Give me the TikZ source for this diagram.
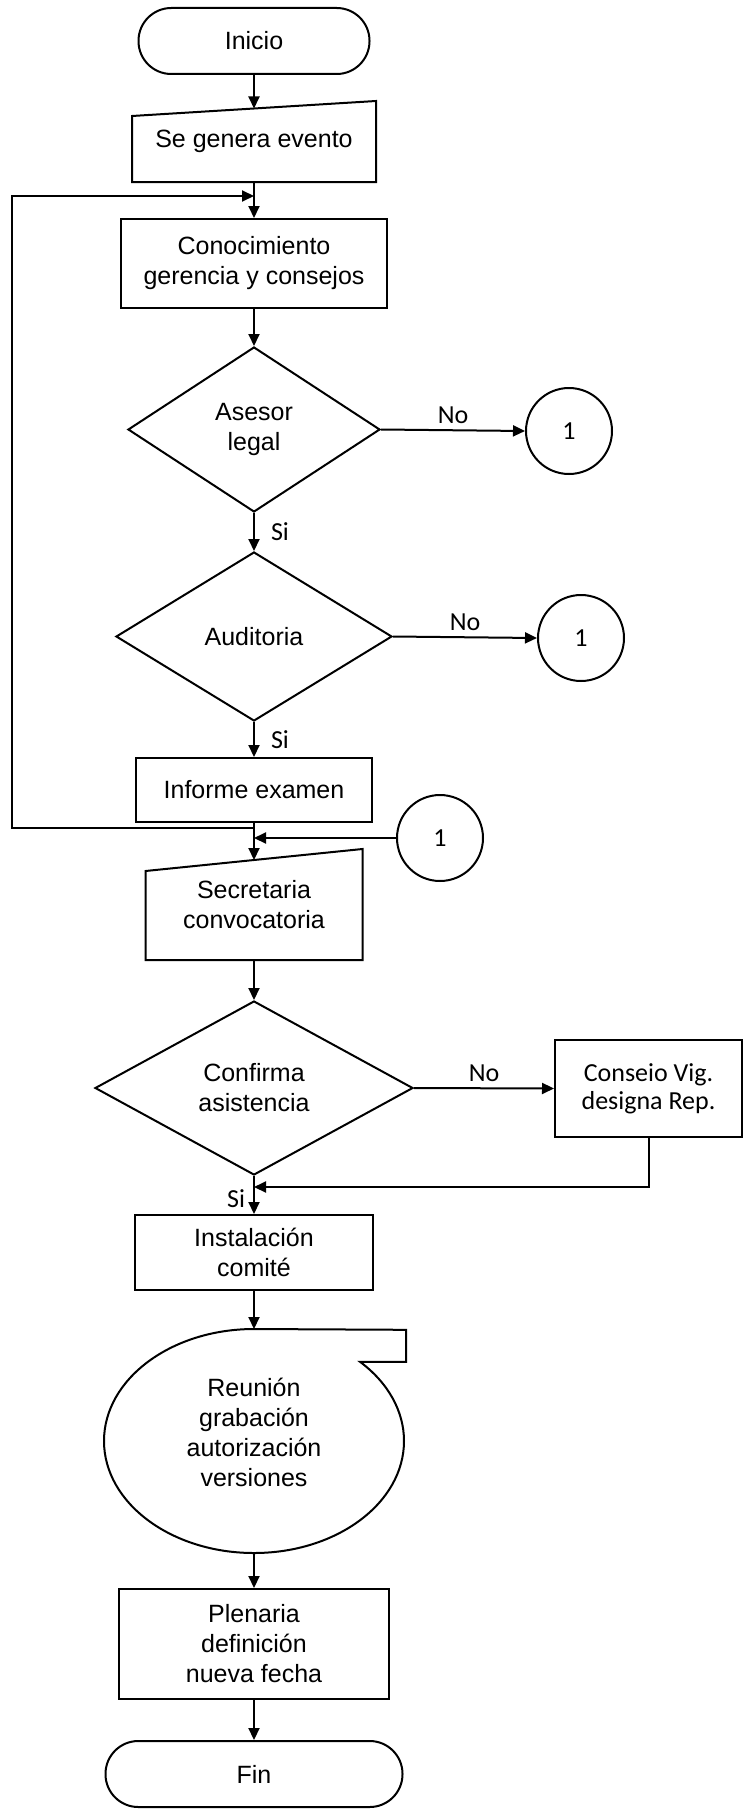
\documentclass[tikz,border=0pt]{standalone}
\usepackage{fontspec}
\setmainfont{Liberation Sans}
\newfontfamily\carlito{Carlito}
\usepackage{tikz}
\usetikzlibrary{shapes.geometric,arrows.meta}

\begin{document}
\begin{tikzpicture}[x=0.5pt,y=0.5pt,line width=1pt]
		\tikzstyle{every node}+=[inner sep=0pt,align=center,font=\fontsize{12.5}{15}\selectfont]
		\tikzstyle{terminal}=[draw,rectangle,rounded corners=16.4pt,minimum height=33pt]
		\tikzstyle{caja}=[draw,rectangle]
		\tikzstyle{manual}=[rectangle]
		\tikzstyle{decision}=[draw,diamond,aspect=1.6]
		\tikzstyle{conector}=[draw,circle,minimum size=43pt,font=\carlito\fontsize{13}{15}\selectfont]
		\tikzstyle{etiq}=[font=\carlito\fontsize{13}{15}\selectfont]
		\tikzstyle{flecha}=[-{Triangle[length=6pt,width=5.5pt]}]
		\useasboundingbox (0,0) rectangle (744,-1809);
		\node[terminal,minimum width=115.5pt] (ini) at (254,-41) {Inicio};
		\node[manual,minimum width=121pt,minimum height=39.5pt] (sge) at (254,-141.5) {Se genera evento};
		\draw (sge.south west) -- (sge.south east) -- (sge.north east) -- ([yshift=-7.5pt]sge.north west) -- cycle;
		\coordinate (sgein) at ([yshift=-3.75pt]sge.north);
		\node[caja,minimum width=133pt,minimum height=44.5pt] (con) at (254,-263.5) {Conocimiento\\gerencia y consejos};
		\node[decision,minimum width=126pt,minimum height=82.5pt] (dase) at (254,-429.5) {Asesor\\legal};
		\node[conector] (uno) at (569,-431) {1};
		\node[decision,minimum width=138pt,minimum height=84.5pt] (daud) at (254,-636.5) {Auditoria};
		\node[conector] (dos) at (581,-638) {1};
		\node[caja,minimum width=118pt,minimum height=32pt] (inf) at (254,-790) {Informe examen};
		\node[conector] (tres) at (440,-838) {1};
		\node[manual,minimum width=107.5pt,minimum height=54.5pt] (sec) at (254,-904.5) {Secretaria\\convocatoria};
		\draw (sec.south west) -- (sec.south east) -- (sec.north east) -- ([yshift=-11pt]sec.north west) -- cycle;
		\coordinate (secin) at ([yshift=-5.5pt]sec.north);
		\node[decision,minimum width=159pt,minimum height=87pt] (dcon) at (254,-1088) {Confirma\\asistencia};
		\node[caja,minimum width=93.5pt,minimum height=48.5pt,font=\carlito\fontsize{13}{14}\selectfont] (cvd) at (648.5,-1088.5) {Conseio Vig.\\designa Rep.};
		\node[caja,minimum width=119pt,minimum height=37.5pt] (ins) at (254,-1252.5) {Instalación\\comité};
		\coordinate (reuc) at (254,-1441);
		\node (reu) at ([yshift=4.5pt]reuc) {Reunión\\grabación\\autorización\\versiones};
		\coordinate (reutop) at ([yshift=56pt]reuc);
		\coordinate (reubot) at ([yshift=-56pt]reuc);
		\draw (reutop) arc[start angle=90,end angle=405,x radius=75pt,y radius=56pt] -- ++(46,0) -- ++(0,32) -- cycle;
		\node[caja,minimum width=135pt,minimum height=55pt] (ple) at (254,-1644) {Plenaria\\definición\\nueva fecha};
		\node[terminal,minimum width=148.5pt] (fin) at (254,-1774) {Fin};
		% conectores
		\coordinate (ret) at (254,-828);
		\coordinate (lazo) at (254,-196);
		\coordinate (une) at (254,-1187);
		\draw[flecha] (ini.south) -- (sgein);
		\draw[flecha] (sge.south) -- (con.north);
		\draw[flecha] (ret) -- ++(-242,0) |- (lazo);
		\draw[flecha] (con.south) -- (dase.north);
		\draw[flecha] (dase.east) -- node[etiq,above=3pt] {No} (uno.west);
		\draw[flecha] (dase.south) -- node[etiq,right=8pt] {Si} (daud.north);
		\draw[flecha] (daud.east) -- node[etiq,above=3pt] {No} (dos.west);
		\draw[flecha] (daud.south) -- node[etiq,right=8pt] {Si} (inf.north);
		\draw[flecha] (inf.south) -- (secin);
		\draw[flecha] (tres.west) -- (tres.west -| inf.south);
		\draw[flecha] (sec.south) -- (dcon.north);
		\draw[flecha] (dcon.east) -- node[etiq,above=3pt] {No} (cvd.west);
		\draw[flecha] (cvd.south) |- (une);
		\draw[flecha] (dcon.south) -- (ins.north);
		\node[etiq,anchor=north east] (si) at ([xshift=-4pt,yshift=-1pt]une) {Si};
		\draw[flecha] (ins.south) -- (reutop);
		\draw[flecha] (reubot) -- (ple.north);
		\draw[flecha] (ple.south) -- (fin.north);
	\end{tikzpicture}
\end{document}
